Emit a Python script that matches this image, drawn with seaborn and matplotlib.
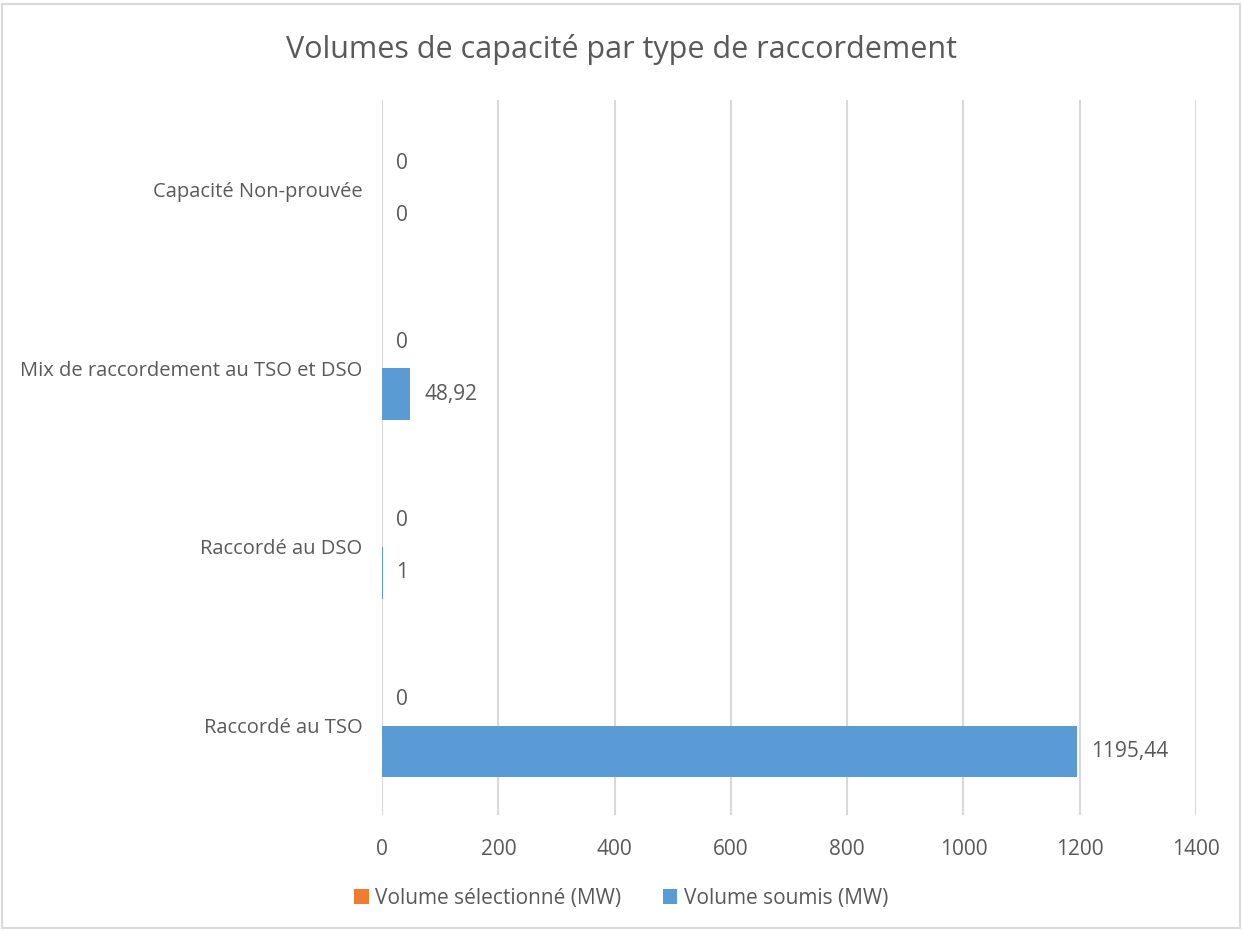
import matplotlib
matplotlib.use("Agg")
import matplotlib.pyplot as plt
import seaborn as sns
import pandas as pd
from matplotlib.patches import Rectangle

categories = ["Capacité Non-prouvée", "Mix de raccordement au TSO et DSO", "Raccordé au DSO", "Raccordé au TSO"]
series_names = ["Volume sélectionné (MW)", "Volume soumis (MW)"]
volume_selectionne = [0, 0, 0, 0]
volume_soumis = [0, 48.92, 1, 1195.44]
x_ticks = [0, 200, 400, 600, 800, 1000, 1200, 1400]
title = "Volumes de capacité par type de raccordement"

colors = ["#ED7D31", "#5B9BD5"]
text_color = "#595959"
grid_color = "#D9D9D9"

df = pd.DataFrame({
    "cat": categories * 2,
    "serie": [series_names[0]] * 4 + [series_names[1]] * 4,
    "val": volume_selectionne + volume_soumis,
})

sns.set_theme(style="white")
plt.rcParams["font.family"] = ["Open Sans", "DejaVu Sans"]

fig = plt.figure(figsize=(12.42, 9.31), dpi=100)
ax = fig.add_axes([0.3076, 0.1246, 0.963 - 0.3076, 0.8926 - 0.1246])

sns.barplot(data=df, y="cat", x="val", hue="serie", order=categories,
            hue_order=series_names, palette=colors, orient="h",
            width=0.58, gap=0, ax=ax, legend=True, saturation=1, linewidth=0)

def fmt(v):
    s = f"{v:.2f}".rstrip("0").rstrip(".")
    return s.replace(".", ",")

for cont in ax.containers:
    ax.bar_label(cont, labels=[fmt(b.get_width()) for b in cont],
                 padding=10, color=text_color, fontsize=15)

ax.set_xlim(0, 1400)
ax.set_xticks(x_ticks)
ax.set_xticklabels([str(t) for t in x_ticks])
ax.set_ylim(3.5, -0.5)
ax.grid(axis="x", color=grid_color, linewidth=1.5)
ax.grid(axis="y", visible=False)
ax.set_axisbelow(True)
for s in ax.spines.values():
    s.set_visible(False)
ax.tick_params(axis="both", length=0, colors=text_color)
ax.tick_params(axis="y", pad=14, labelsize=14.5)
ax.tick_params(axis="x", pad=17, labelsize=15)
ax.set_xlabel("")
ax.set_ylabel("")

leg = ax.legend(loc="lower center", bbox_to_anchor=(0.5, 0.004),
                bbox_transform=fig.transFigure, ncol=2,
                frameon=False, fontsize=15, handlelength=0.7, handleheight=0.7,
                columnspacing=2.0, handletextpad=0.3, labelcolor=text_color)

fig.text(0.5, 0.947, title, ha="center", va="center", fontsize=22, color=text_color)

fig.patches.append(Rectangle((0.002, 0.003), 0.996, 0.993, transform=fig.transFigure,
                             fill=False, edgecolor="#D9D9D9", linewidth=1.5))

fig.savefig("out.png", dpi=100, facecolor="white")
